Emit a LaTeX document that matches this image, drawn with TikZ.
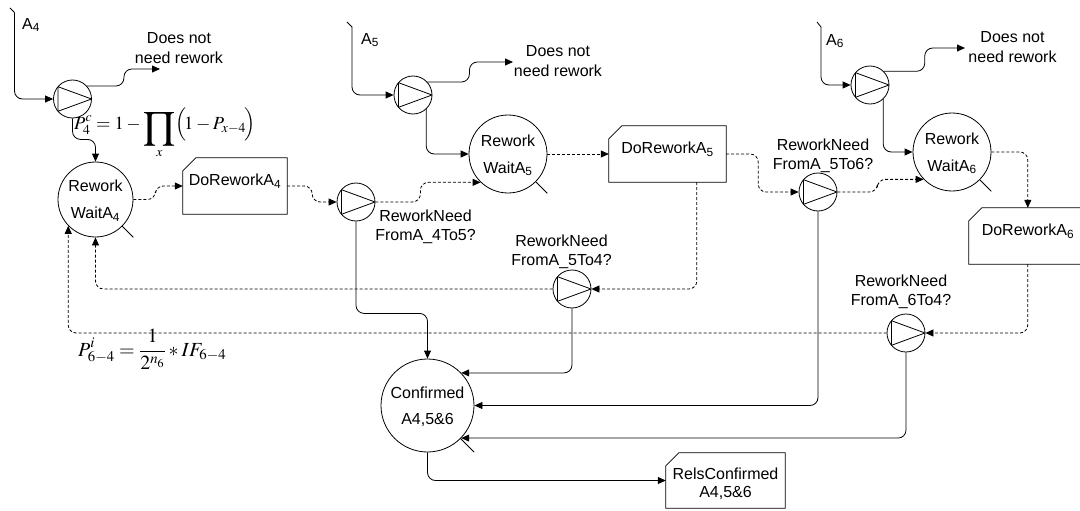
\documentclass[tikz,border=0pt]{standalone}
\usepackage{mathptmx}
\usepackage[no-math]{fontspec}
\setmainfont{Liberation Sans}
\usetikzlibrary{arrows.meta,calc}

% outline of a card-like box with its top-left corner cut off
\newcommand\cardoutline[1]{%
  \draw[line width=0.8pt] (#1.south west) -- ($(#1.north west)+(0,13)$)
    -- ($(#1.north west)+(13,0)$) -- (#1.north east) -- (#1.south east) -- cycle;}
% enlarged product sign, sitting a little low as in equation editors
\newcommand\bigprodsign{\mathop{\raisebox{-4pt}{$\vcenter{\hbox{\scalebox{1.45}{$\displaystyle\prod$}}}$}}}

\begin{document}
\begin{tikzpicture}[x=1pt,y=-1pt,
  flow/.style={draw, line width=0.8pt, rounded corners=8pt,
    -{Triangle[length=8pt,width=7pt]}},
  dflow/.style={flow, dash pattern=on 3pt off 2pt},
  decision/.style={circle, draw, line width=0.8pt, minimum size=38pt, inner sep=0pt},
  waitnode/.style={circle, draw, line width=0.8pt, inner sep=0pt, align=center,
    font=\fontsize{16}{27}\selectfont},
  cardbox/.style={inner sep=0pt},
  lbl/.style={align=center, inner sep=0pt, font=\fontsize{16}{19.5}\selectfont},
  formula/.style={inner sep=0pt, anchor=base west}]

\useasboundingbox (0,0) rectangle (1080,511);
\clip (0,0) rectangle (1080,511);

% decision points
\node[decision] (d4)  at (72.5,99)  {};
\node[decision] (d5)  at (413,95)   {};
\node[decision] (d6)  at (870,85)   {};
\node[decision] (d45) at (356,202)  {};
\node[decision] (d54) at (572,289)  {};
\node[decision] (d56) at (818,192)  {};
\node[decision] (d64) at (906,333)  {};
\foreach \n in {d4,d5,d6,d45,d54,d56,d64}{
  \draw[line width=0.8pt, line join=bevel]
    ($(\n.center)+(-14.5,-12.3)$) -- ($(\n.center)+(-14.5,12.3)$)
    -- ($(\n.center)+(19,0)$) -- cycle;}

% waiting queues
\node[waitnode, minimum size=75pt] (w4) at (95.5,199.5) {\rule{0pt}{14pt}Rework\\WaitA\textsubscript{4}};
\node[waitnode, minimum size=78pt] (w5) at (508,154) {\rule{0pt}{14pt}Rework\\WaitA\textsubscript{5}};
\node[waitnode, minimum size=78pt] (w6) at (952,152) {\rule{0pt}{14pt}Rework\\WaitA\textsubscript{6}};
\node[waitnode, minimum size=93pt, font=\fontsize{16}{26}\selectfont] (conf) at (427.5,405.5) {\rule{0pt}{14pt}Confirmed\\A4,5\&6};
\draw[line width=0.8pt] (w4.-45) -- ++(11,11);
\draw[line width=0.8pt] (w5.-45) -- ++(11.5,11.5);
\draw[line width=0.8pt] (w6.-45) -- ++(11.5,11.5);
\draw[line width=0.8pt] (conf.-45) -- ++(13.5,13.5);

% activities
\node[cardbox, minimum width=104pt, minimum height=56pt,
  label={[lbl, yshift=5pt]center:DoReworkA\textsubscript{4}}] (b4) at (235,186) {};
\node[cardbox, minimum width=117pt, minimum height=56pt,
  label={[lbl, yshift=5pt]center:DoReworkA\textsubscript{5}}] (b5) at (667.5,154) {};
\node[cardbox, minimum width=118pt, minimum height=56pt,
  label={[lbl, yshift=5pt]center:DoReworkA\textsubscript{6}}] (b6) at (1028,236) {};
\node[cardbox, minimum width=119pt, minimum height=55pt,
  label={[lbl, font=\fontsize{16}{18.5}\selectfont, yshift=-3pt]center:{RelsConfirmed\\A4,5\&6}}] (rc) at (725.5,480.5) {};
\foreach \n in {b4,b5,b6,rc}{\cardoutline{\n}}

% entry points and exits
\coordinate (t4s) at (10,8);    \coordinate (t4) at (14.5,12.5);
\coordinate (t5s) at (347,22);  \coordinate (t5) at (352,27);
\coordinate (t6s) at (817,22);  \coordinate (t6) at (821,27);
\draw[line width=0.8pt] (t4s) -- (t4);
\draw[line width=0.8pt] (t5s) -- (t5);
\draw[line width=0.8pt] (t6s) -- (t6);
\coordinate (o4) at (160,69);
\coordinate (o5) at (513,62);
\coordinate (o6) at (965,48);

% labels
\node[lbl] (a4) at (31,25) {A\textsubscript{4}};
\node[lbl] (a5) at (370,40) {A\textsubscript{5}};
\node[lbl] (a6) at (835,41) {A\textsubscript{6}};
\node[lbl] (nr4) at (179,48)   {Does not\\need rework};
\node[lbl] (nr5) at (558,61)   {Does not\\need rework};
\node[lbl] (nr6) at (1012.5,47) {Does not\\need rework};
\node[lbl] (l45) at (425.5,227) {ReworkNeed\\FromA\_4To5?};
\node[lbl] (l54) at (561.5,252) {ReworkNeed\\FromA\_5To4?};
\node[lbl] (l56) at (823,156)   {ReworkNeed\\FromA\_5To6?};
\node[lbl] (l64) at (901,292)   {ReworkNeed\\FromA\_6To4?};

\node[formula, font=\fontsize{18.5}{22}\selectfont] (f1) at (74,129.5)
  {$\displaystyle P_4^c = 1-\bigprodsign\limits_x \Bigl(\!1-P_{x-4}\!\Bigr)$};
\node[formula, font=\fontsize{20}{24}\selectfont] (f2) at (78,356)
  {$\displaystyle P_{6-4}^i = \frac{1}{2^{n_6}} * IF_{6-4}$};

% main flow
\draw[flow] (t4) |- (d4.west);
\draw[flow] (t5) |- (d5.west);
\draw[flow] (t6) |- (d6.west);
\draw[flow] (d4.42) -- ++(37,0) |- (o4);
\draw[flow] (d5.42) -- ++(42,0) |- (o5);
\draw[flow] (d6.45) -- ++(41,0) |- (o6);
\draw[flow] (d4.south) -- ++(0,21) -| (w4.north);
\draw[flow] (d5.-47) |- (w5.west);
\draw[flow] (d6.-47) |- (w6.west);

% rework loops
\draw[dflow] (w4.east) -- ++(22,0) |- (b4.west);
\draw[dflow] (b4.east) -- ++(25,0) |- (d45.west);
\draw[dflow] (d45.east) -- ++(45,0) |- (w5.226);
\draw[dflow] (w5.east) -- (b5.west);
\draw[dflow] (b5.east) -- ++(32,0) |- (d56.west);
\draw[dflow] (d56.east) -- ++(40,0) |- (w6.224);
\draw[dflow] (w6.east) -| ([xshift=59pt]b6.north west);
\draw[dflow] ([xshift=59pt]b6.south west) |- (d64.east);
\draw[dflow] (d64.west) -| (w4.224);
\draw[dflow] ([xshift=88pt]b5.south west) |- (d54.east);
\draw[dflow] (d54.west) -| (w4.south);

% confirmation
\draw[flow] (d45.south) -- ++(0,92) -| (conf.north);
\draw[flow] (d54.south) |- (conf.44);
\draw[flow] (d56.south) |- (conf.east);
\draw[flow] (d64.south) |- (conf.-44);
\draw[flow] (conf.south) |- (rc.west);
\end{tikzpicture}
\end{document}
